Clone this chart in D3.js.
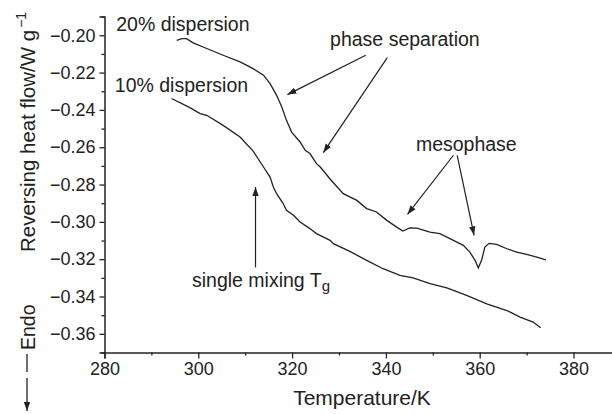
<!DOCTYPE html>
<html><head><meta charset="utf-8">
<script src="https://cdn.jsdelivr.net/npm/d3@7"></script>
<style>
body{margin:0;background:#fff;}
text{font-family:"Liberation Sans",Arial,sans-serif;fill:#222;}
</style></head>
<body>
<svg id="chart" width="612" height="414"></svg>
<script>
// ---- data ----
const temp20 = [295.4,296.5,297.5,298.9,301.8,305.3,308.9,311.7,313.9,315.3,316.7,317.8,318.8,319.9,321.7,322.8,323.8,325.2,326.0,328.1,330.9,333.8,335.9,338.0,340.2,342.3,343.6,345.1,346.6,349.4,351.5,354.4,356.5,357.9,359.0,359.7,360.4,361.1,362.0,363.6,365.8,367.9,370.0,372.2,374.1];
const flow20 = [-0.2027,-0.2018,-0.2018,-0.2041,-0.2071,-0.2107,-0.2143,-0.2179,-0.2214,-0.2259,-0.2322,-0.2384,-0.2456,-0.2519,-0.2572,-0.2617,-0.2634,-0.2688,-0.2706,-0.2770,-0.2849,-0.2885,-0.2929,-0.2947,-0.2992,-0.3028,-0.3049,-0.3032,-0.3033,-0.3055,-0.3063,-0.3099,-0.3126,-0.3162,-0.3206,-0.3246,-0.3206,-0.3135,-0.3115,-0.3121,-0.3144,-0.3162,-0.3174,-0.3189,-0.3203];
const temp10 = [294.3,298.2,300.4,301.8,305.3,308.9,311.7,313.9,315.3,316.0,316.7,318.1,318.8,320.3,321.7,323.8,325.2,328.1,328.8,332.3,335.9,339.4,343.0,345.8,349.4,353.0,357.2,361.5,365.8,368.6,371.4,373.0];
const flow10 = [-0.2339,-0.2388,-0.2420,-0.2429,-0.2483,-0.2545,-0.2621,-0.2706,-0.2760,-0.2813,-0.2849,-0.2902,-0.2938,-0.2965,-0.3001,-0.3036,-0.3063,-0.3099,-0.3117,-0.3158,-0.3206,-0.3251,-0.3287,-0.3300,-0.3331,-0.3354,-0.3394,-0.3439,-0.3475,-0.3510,-0.3537,-0.3567];
const xTicks = [280,300,320,340,360,380];
const xMinor = [290,310,330,350,370,390];
const yTicks = [-0.36,-0.34,-0.32,-0.30,-0.28,-0.26,-0.24,-0.22,-0.20];
const yMinor = [-0.37,-0.35,-0.33,-0.31,-0.29,-0.27,-0.25,-0.23,-0.21,-0.19];
const xTitle = "Temperature/K";
const yTitle = "Reversing heat flow/W g";
const yTitleSup = "\u22121";
// annotation arrows: [fromT, fromV, toT, toV]
const arrows = [
  [335.7,-0.2107,319.0,-0.2318],
  [340.3,-0.2120,326.65,-0.2629],
  [354.4,-0.2643,344.6,-0.2960],
  [355.2,-0.2643,358.8,-0.3072],
  [312.2,-0.3244,312.2,-0.2813]
];
const labels = [
  {text:"20% dispersion", t:282.5, v:-0.1979},
  {text:"10% dispersion", t:282.2, v:-0.2306},
  {text:"phase separation", t:328.1, v:-0.2059},
  {text:"mesophase", t:346.4, v:-0.2620}
];

// ---- chart ----
const svg = d3.select("#chart");
const x = d3.scaleLinear().domain([280,390]).range([104.5,620.4]);
const y = d3.scaleLinear().domain([-0.37,-0.19]).range([352.5,16.6]);

svg.append("defs").append("marker")
  .attr("id","ah").attr("viewBox","0 0 10 10").attr("refX",10).attr("refY",5)
  .attr("markerWidth",9).attr("markerHeight",9).attr("markerUnits","userSpaceOnUse")
  .attr("orient","auto")
  .append("path").attr("d","M0,1.5 L10,5 L0,8.5 Z").attr("fill","#222");

// axes
svg.append("g").attr("transform",`translate(0,${y(-0.37)})`)
  .call(d3.axisBottom(x).tickValues(xTicks).tickSize(6).tickPadding(4).tickFormat(d3.format("d")));
svg.append("g").attr("transform",`translate(0,${y(-0.37)})`)
  .call(d3.axisBottom(x).tickValues(xMinor).tickSize(3).tickFormat(""))
  .select(".domain").remove();
svg.append("g").attr("transform",`translate(${x(280)},0)`)
  .call(d3.axisLeft(y).tickValues(yTicks).tickSize(5).tickPadding(4).tickFormat(d3.format(".2f")));
svg.append("g").attr("transform",`translate(${x(280)},0)`)
  .call(d3.axisLeft(y).tickValues(yMinor).tickSize(3).tickFormat(""))
  .select(".domain").remove();
svg.selectAll(".domain").attr("stroke","#222").attr("stroke-width",1.5);
svg.selectAll(".tick line").attr("stroke","#222").attr("stroke-width",1.3);
svg.selectAll(".tick text").attr("font-size",18).attr("fill","#222")
  .style("font-family","'Liberation Sans',Arial,sans-serif");

// curves
const line = d3.line().x(d=>x(d[0])).y(d=>y(d[1]));
svg.append("path").datum(temp20.map((t,i)=>[t,flow20[i]]))
  .attr("d",line).attr("fill","none").attr("stroke","#222").attr("stroke-width",1.3);
svg.append("path").datum(temp10.map((t,i)=>[t,flow10[i]]))
  .attr("d",line).attr("fill","none").attr("stroke","#222").attr("stroke-width",1.3);

// arrows
arrows.forEach(a=>{
  svg.append("line").attr("x1",x(a[0])).attr("y1",y(a[1])).attr("x2",x(a[2])).attr("y2",y(a[3]))
    .attr("stroke","#222").attr("stroke-width",1.2).attr("marker-end","url(#ah)");
});

// labels
labels.forEach(l=>{
  svg.append("text").attr("x",x(l.t)).attr("y",y(l.v)).attr("font-size",19.5).text(l.text);
});
const tg = svg.append("text").attr("x",192).attr("y",287).attr("font-size",19.5);
tg.append("tspan").text("single mixing T");
tg.append("tspan").attr("font-size",15).attr("dy",4).text("g");

// axis titles
svg.append("text").attr("x",362).attr("y",405).attr("text-anchor","middle").attr("font-size",21).text(xTitle);
const yt = svg.append("text").attr("transform","translate(35,252) rotate(-90)").attr("font-size",20.5);
yt.append("tspan").text(yTitle);
yt.append("tspan").attr("font-size",14).attr("dy",-9).attr("dx",2).text(yTitleSup);

svg.append("text").attr("transform","translate(35,350) rotate(-90)").attr("font-size",19.5).text("Endo");
svg.append("line").attr("x1",27).attr("x2",27).attr("y1",354).attr("y2",372).attr("stroke","#222").attr("stroke-width",1.3);
svg.append("line").attr("x1",27).attr("x2",27).attr("y1",378).attr("y2",411).attr("stroke","#222").attr("stroke-width",1.3).attr("marker-end","url(#ah)");
</script>
</body></html>
